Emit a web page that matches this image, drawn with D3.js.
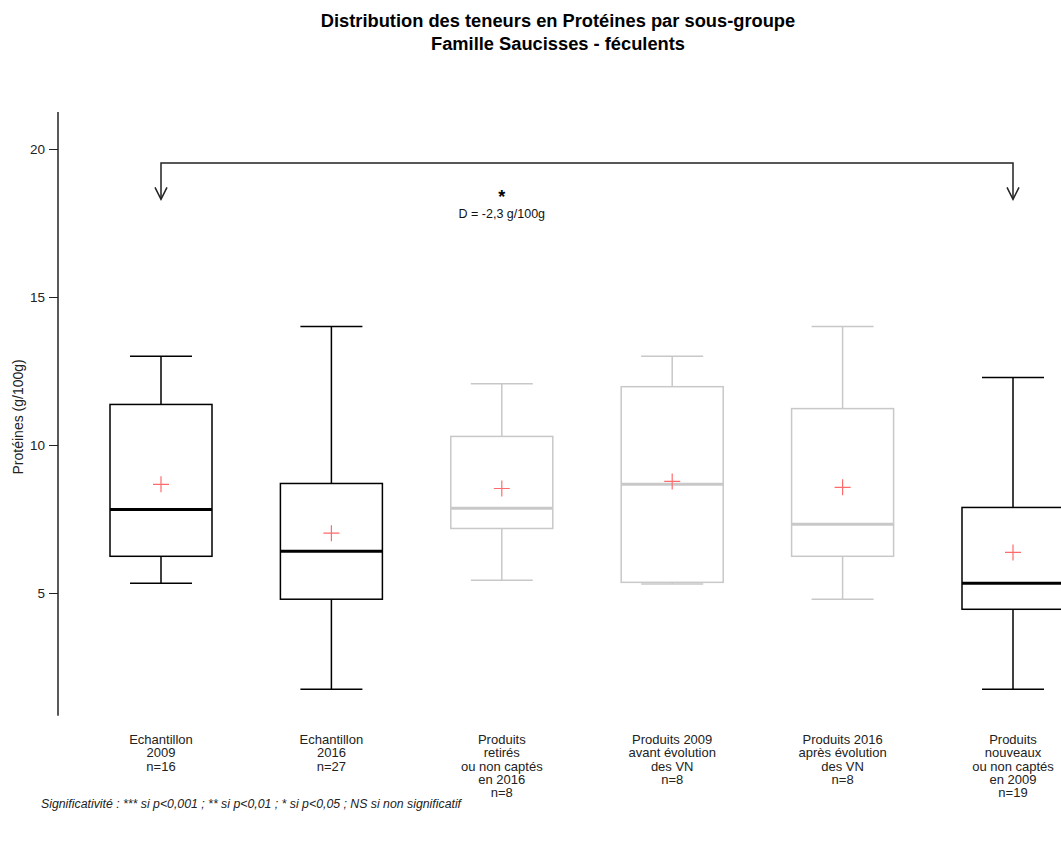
<!DOCTYPE html>
<html>
<head>
<meta charset="utf-8">
<script src="https://cdn.jsdelivr.net/npm/d3@7"></script>
<style>
  html, body { margin: 0; padding: 0; background: #fff; }
  svg { display: block; font-family: "Liberation Sans", Arial, sans-serif; }
</style>
</head>
<body>
<svg id="chart" width="1061" height="843"></svg>
<script>
// ---- data ----
const categories = [
  ["Echantillon", "2009", "n=16"],
  ["Echantillon", "2016", "n=27"],
  ["Produits", "retirés", "ou non captés", "en 2016", "n=8"],
  ["Produits 2009", "avant évolution", "des VN", "n=8"],
  ["Produits 2016", "après évolution", "des VN", "n=8"],
  ["Produits", "nouveaux", "ou non captés", "en 2009", "n=19"]
];
const whiskerLow  = [5.33, 1.75, 5.43, 5.30, 4.79, 1.75];
const q1          = [6.24, 4.79, 7.18, 5.36, 6.24, 4.45];
const medians     = [7.82, 6.41, 7.86, 8.67, 7.32, 5.33];
const q3          = [11.37, 8.70, 10.29, 11.97, 11.23, 7.89];
const whiskerHigh = [13.00, 14.00, 12.07, 13.00, 14.00, 12.28];
const means       = [8.67, 7.02, 8.53, 8.77, 8.57, 6.37];
const highlighted = [true, true, false, false, false, true];
const yTicks = [5, 10, 15, 20];
const yAxisExtent = [0.85, 21.25];
const comparison = { from: 0, to: 5, level: 19.53, tip: 18.3, stars: "*", label: "D = -2,3 g/100g" };
const titleLines = ["Distribution des teneurs en Protéines par sous-groupe", "Famille Saucisses - féculents"];
const yLabel = "Protéines (g/100g)";
const footnote = "Significativité : *** si p<0,001 ; ** si p<0,01 ; * si p<0,05 ; NS si non significatif";

// ---- chart ----
const svg = d3.select("#chart");
const idx = d3.range(categories.length);
const x = d3.scalePoint().domain(idx).range([161, 1013]);
const y = d3.scaleLinear().domain([5, 20]).range([593, 149]);
const boxW = 102, capW = 62;
const black = "#000", grey = "#c8c8c8";
const col = i => highlighted[i] ? black : grey;

// title
svg.append("g").selectAll("text").data(titleLines).join("text")
  .attr("x", 558).attr("y", (d, i) => 27 + i * 23)
  .attr("text-anchor", "middle").attr("font-weight", "bold").attr("font-size", 18.3)
  .text(d => d);

// y axis
const yAxis = svg.append("g").attr("transform", "translate(58,0)")
  .call(d3.axisLeft(y).tickValues(yTicks).tickSize(9).tickPadding(4).tickFormat(d3.format("d")));
yAxis.select(".domain").remove();
yAxis.selectAll("line").attr("stroke", "#222");
yAxis.selectAll("text").attr("font-size", 13.5).attr("fill", "#222").attr("font-family", "Liberation Sans, Arial, sans-serif");
svg.append("line").attr("x1", 58).attr("x2", 58)
  .attr("y1", y(yAxisExtent[0])).attr("y2", y(yAxisExtent[1]))
  .attr("stroke", "#222").attr("stroke-width", 1.5);

svg.append("text")
  .attr("transform", `translate(23,${y(10.95)}) rotate(-90)`)
  .attr("text-anchor", "middle").attr("font-size", 14).attr("fill", "#222")
  .text(yLabel);

// boxes
const g = svg.append("g");
idx.forEach(i => {
  const cx = x(i), c = col(i);
  const bg = g.append("g").attr("stroke", c).attr("fill", "none");
  bg.append("line").attr("x1", cx).attr("x2", cx).attr("y1", y(q3[i])).attr("y2", y(whiskerHigh[i])).attr("stroke-width", 1.5);
  bg.append("line").attr("x1", cx).attr("x2", cx).attr("y1", y(q1[i])).attr("y2", y(whiskerLow[i])).attr("stroke-width", 1.5);
  bg.append("line").attr("x1", cx - capW / 2).attr("x2", cx + capW / 2).attr("y1", y(whiskerHigh[i])).attr("y2", y(whiskerHigh[i])).attr("stroke-width", 1.5);
  bg.append("line").attr("x1", cx - capW / 2).attr("x2", cx + capW / 2).attr("y1", y(whiskerLow[i])).attr("y2", y(whiskerLow[i])).attr("stroke-width", 1.5);
  bg.append("rect").attr("x", cx - boxW / 2).attr("width", boxW)
    .attr("y", y(q3[i])).attr("height", y(q1[i]) - y(q3[i])).attr("stroke-width", 1.5);
  bg.append("line").attr("x1", cx - boxW / 2).attr("x2", cx + boxW / 2)
    .attr("y1", y(medians[i])).attr("y2", y(medians[i])).attr("stroke-width", 3);
  const my = y(means[i]);
  g.append("path").attr("d", `M${cx - 8},${my}H${cx + 8}M${cx},${my - 8}V${my + 8}`)
    .attr("stroke", "#ff6b6b").attr("stroke-width", 1.2).attr("fill", "none");
});

// x labels
idx.forEach(i => {
  svg.append("g").selectAll("text").data(categories[i]).join("text")
    .attr("x", x(i)).attr("y", (d, k) => 744 + k * 13.3)
    .attr("text-anchor", "middle").attr("font-size", 13).attr("fill", "#222")
    .text(d => d);
});

// comparison bracket
const x1 = x(comparison.from), x2 = x(comparison.to);
const yl = y(comparison.level), yt = y(comparison.tip);
svg.append("path")
  .attr("d", `M${x1},${yt}V${yl}H${x2}V${yt}`)
  .attr("stroke", "#222").attr("stroke-width", 1.5).attr("fill", "none");
[x1, x2].forEach(ax => {
  svg.append("path").attr("d", `M${ax - 6},${yt - 12}L${ax},${yt}L${ax + 6},${yt - 12}`)
    .attr("stroke", "#222").attr("stroke-width", 1.5).attr("fill", "none");
});
const mid = (x1 + x(comparison.to - 1)) / 2;
svg.append("text").attr("x", mid).attr("y", 203).attr("text-anchor", "middle")
  .attr("font-size", 18).attr("font-weight", "bold").text(comparison.stars);
svg.append("text").attr("x", mid).attr("y", 218).attr("text-anchor", "middle")
  .attr("font-size", 12.5).attr("fill", "#111").text(comparison.label);

// footnote
svg.append("text").attr("x", 41).attr("y", 808)
  .attr("font-size", 12.3).attr("font-style", "italic").attr("fill", "#222")
  .text(footnote);
</script>
</body>
</html>
